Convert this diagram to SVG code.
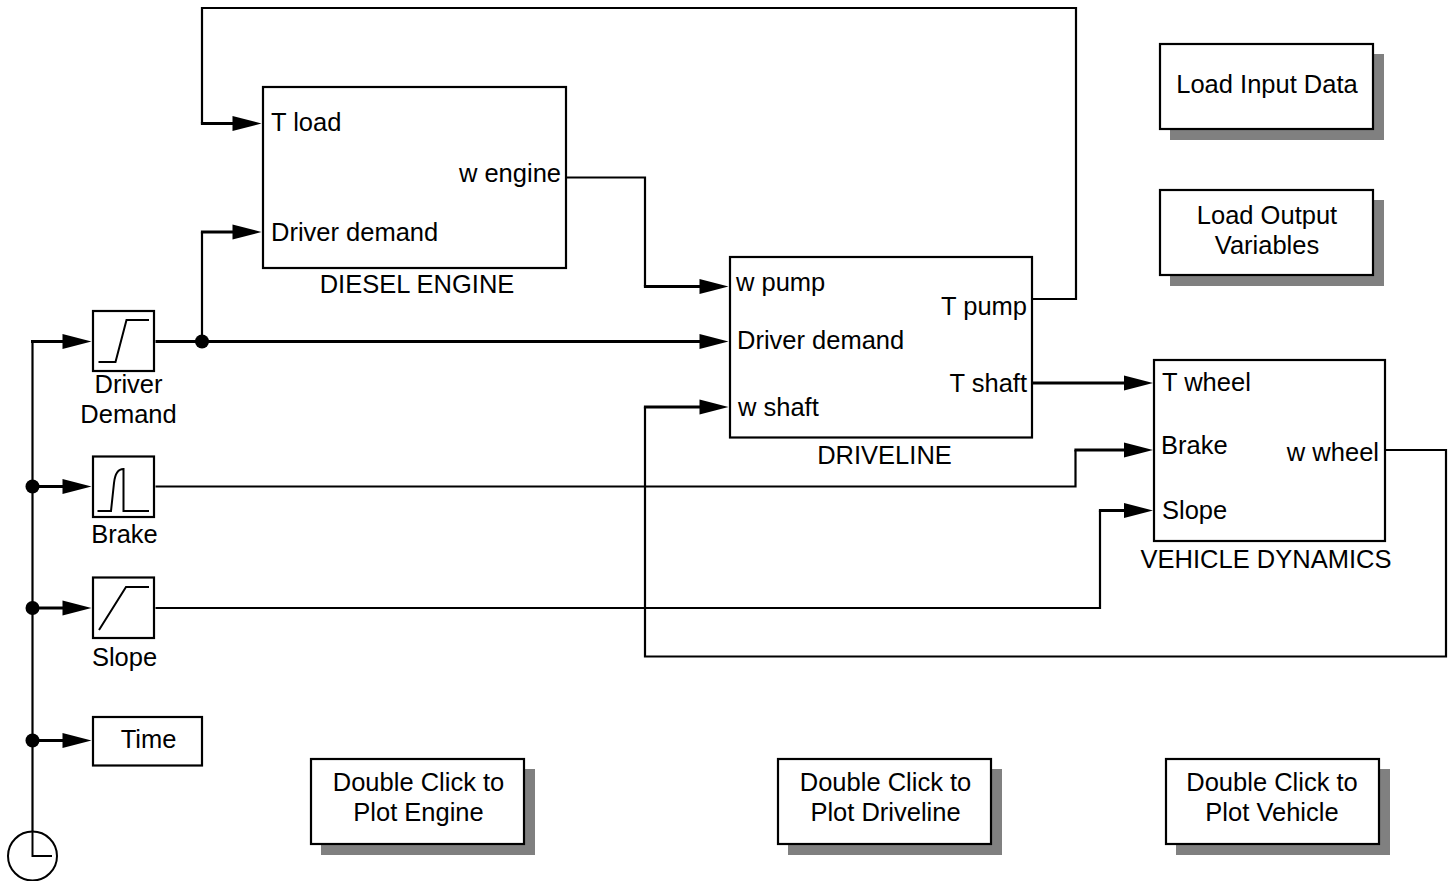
<svg xmlns="http://www.w3.org/2000/svg" width="1448" height="881" viewBox="0 0 1448 881">
<style>
text{font-family:"Liberation Sans",Arial,sans-serif;font-size:25.5px;fill:#000}
.m{text-anchor:middle}.e{text-anchor:end}
.b{fill:#fff;stroke:#000;stroke-width:2.2}
.s{fill:#808080}
.w{fill:none;stroke:#000;stroke-width:2.2}
.t{fill:none;stroke:#000;stroke-width:3}
.g{fill:none;stroke:#000;stroke-width:2}
</style>
<defs>
<path id="ah" d="M0 0L-29 -7.500V7.500Z" fill="#000"/>
<circle id="dot" r="7" fill="#000"/>
</defs>
<g id="connectors">
<path class="w" d="M32.500 831V341.500"/>
<path class="t" d="M31 341.500H64"/><use href="#ah" x="91.500" y="341.500"/>
<path class="t" d="M33 486.500H64"/><use href="#ah" x="91.500" y="486.500"/>
<path class="t" d="M33 608H64"/><use href="#ah" x="91.500" y="608"/>
<path class="t" d="M33 740.500H64"/><use href="#ah" x="91.500" y="740.500"/>
<use href="#dot" x="32.500" y="486.500"/><use href="#dot" x="32.500" y="608"/><use href="#dot" x="32.500" y="740.500"/>
<path class="t" d="M155.500 341.500H700"/><use href="#ah" x="728.500" y="341.500"/>
<path class="w" d="M202 341.500V232"/><path class="t" d="M200.900 232H234"/><use href="#ah" x="261.500" y="232"/>
<use href="#dot" x="202" y="341.500"/>
<path class="w" d="M1033 299H1076V8H202V123.500"/><path class="t" d="M200.900 123.500H234"/><use href="#ah" x="261.500" y="123.500"/>
<path class="w" d="M567 177.500H645V286.500"/><path class="t" d="M643.900 286.500H700"/><use href="#ah" x="728.500" y="286.500"/>
<path class="w" d="M1386 450H1446V656.500H645V407"/><path class="t" d="M643.900 407H700"/><use href="#ah" x="728.500" y="407"/>
<path class="t" d="M1033 383H1125"/><use href="#ah" x="1153" y="383"/>
<path class="w" d="M155.500 486.500H1075.500V450"/><path class="t" d="M1074.400 450H1125"/><use href="#ah" x="1153" y="450"/>
<path class="w" d="M155.500 608H1100V510.500"/><path class="t" d="M1098.900 510.500H1125"/><use href="#ah" x="1153" y="510.500"/>
</g>
<g id="clock"><circle cx="32.500" cy="856" r="24.500" fill="#fff" stroke="#000" stroke-width="2"/><path class="g" d="M32.500 831V856H52"/></g>
<g id="driver-demand"><rect class="b" x="93" y="311" width="61" height="60"/><path class="g" d="M98.500 362H115.500L126.500 320H149"/><text class="m" x="128.500" y="393">Driver</text><text class="m" x="128.500" y="423">Demand</text></g>
<g id="brake"><rect class="b" x="93" y="456.500" width="61" height="60.500"/><path class="g" d="M97.500 511H111L114 483Q115.500 469 123.500 469V511H149"/><text class="m" x="124.500" y="543">Brake</text></g>
<g id="slope"><rect class="b" x="93" y="577.500" width="61" height="60.500"/><path class="g" d="M99 630L126 587H149"/><text class="m" x="124.500" y="666">Slope</text></g>
<g id="time"><rect class="b" x="93" y="717" width="109" height="48.500"/><text class="m" x="148.500" y="748">Time</text></g>
<g id="diesel-engine"><rect class="b" x="263" y="87" width="303" height="181"/><text x="271" y="131">T load</text><text class="e" x="561" y="182">w engine</text><text x="271" y="241">Driver demand</text><text class="m" x="417" y="293">DIESEL ENGINE</text></g>
<g id="driveline"><rect class="b" x="730" y="257" width="302" height="180.500"/><text x="736" y="291">w pump</text><text class="e" x="1027" y="315">T pump</text><text x="737" y="349">Driver demand</text><text class="e" x="1027" y="392">T shaft</text><text x="738" y="416">w shaft</text><text class="m" x="884.500" y="464">DRIVELINE</text></g>
<g id="vehicle-dynamics"><rect class="b" x="1154" y="360" width="231" height="181"/><text x="1162" y="391">T wheel</text><text x="1161" y="454">Brake</text><text class="e" x="1379" y="461">w wheel</text><text x="1162" y="519">Slope</text><text class="m" x="1266" y="568">VEHICLE DYNAMICS</text></g>
<g id="load-input"><rect class="s" x="1170" y="54" width="214" height="86"/><rect class="b" x="1160" y="44" width="213" height="85"/><text class="m" x="1267" y="93">Load Input Data</text></g>
<g id="load-output"><rect class="s" x="1170" y="200" width="214" height="86"/><rect class="b" x="1160" y="190" width="213" height="85"/><text class="m" x="1267" y="224">Load Output</text><text class="m" x="1267" y="254">Variables</text></g>
<g id="plot-engine"><rect class="s" x="321" y="769" width="214" height="86"/><rect class="b" x="311" y="759" width="213" height="85"/><text class="m" x="418.500" y="791">Double Click to</text><text class="m" x="418.500" y="821">Plot Engine</text></g>
<g id="plot-driveline"><rect class="s" x="788" y="769" width="214" height="86"/><rect class="b" x="778" y="759" width="213" height="85"/><text class="m" x="885.500" y="791">Double Click to</text><text class="m" x="885.500" y="821">Plot Driveline</text></g>
<g id="plot-vehicle"><rect class="s" x="1176" y="769" width="214" height="86"/><rect class="b" x="1166" y="759" width="213" height="85"/><text class="m" x="1272" y="791">Double Click to</text><text class="m" x="1272" y="821">Plot Vehicle</text></g>
</svg>
